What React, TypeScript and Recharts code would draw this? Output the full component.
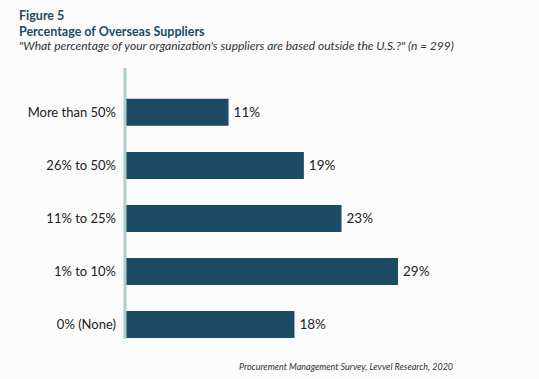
import { BarChart, Bar, XAxis, YAxis, LabelList } from "recharts";

const categories = ["More than 50%", "26% to 50%", "11% to 25%", "1% to 10%", "0% (None)"];
const shares = [11, 19, 23, 29, 18];

const data = categories.map((name, i) => ({ idx: i, name, value: shares[i] }));

const FONT = "Lato, 'Open Sans', sans-serif";
const AXIS_COLOR = "#a9d2c6";
const BAR_COLOR = "#1c4b63";

export default function App() {
    return (
        <div
            style={{
                position: "absolute",
                left: 0,
                top: 0,
                width: 539,
                height: 379,
                background: "#fbfbfb",
                fontFamily: FONT,
                overflow: "hidden",
            }}
        >
            <div style={{ position: "absolute", left: 19, top: 8, fontSize: 12.5, fontWeight: 700, color: "#1f4a62", lineHeight: "16px" }}>
                Figure 5
            </div>
            <div style={{ position: "absolute", left: 19, top: 24, fontSize: 12.5, fontWeight: 700, color: "#1f4a62", lineHeight: "16px" }}>
                Percentage of Overseas Suppliers
            </div>
            <div style={{ position: "absolute", left: 19, top: 38, fontSize: 12, fontStyle: "italic", color: "#333", lineHeight: "16px" }}>
                "What percentage of your organization's suppliers are based outside the U.S.?" (n = 299)
            </div>

            <BarChart
                style={{ position: "absolute", left: 0, top: 0 }}
                width={539}
                height={379}
                data={data}
                layout="vertical"
                margin={{ top: 68, right: 141, left: 0, bottom: 40 }}
            >
                <XAxis
                    type="number"
                    domain={[0, 29]}
                    height={0}
                    tick={false}
                    tickLine={false}
                    axisLine={{ stroke: AXIS_COLOR, strokeWidth: 3 }}
                />
                <YAxis
                    type="number"
                    dataKey="idx"
                    domain={[-0.836, 4.272]}
                    allowDataOverflow
                    ticks={[0, 1, 2, 3, 4]}
                    tickFormatter={(i: number) => categories[i]}
                    width={125}
                    tickLine={false}
                    tickSize={0}
                    tickMargin={9}
                    axisLine={{ stroke: AXIS_COLOR, strokeWidth: 3 }}
                    tick={{ fill: "#222", fontSize: 13, fontFamily: FONT }}
                />
                <Bar dataKey="value" fill={BAR_COLOR} barSize={27} isAnimationActive={false}>
                    <LabelList
                        dataKey="value"
                        position="right"
                        offset={5}
                        formatter={(v: number) => `${v}%`}
                        style={{ fill: "#222", fontSize: 13.5, fontFamily: FONT }}
                    />
                </Bar>
            </BarChart>

            <div
                style={{
                    position: "absolute",
                    left: 239,
                    top: 361,
                    fontSize: 9,
                    fontStyle: "italic",
                    color: "#333",
                    lineHeight: "12px",
                }}
            >
                Procurement Management Survey, Levvel Research, 2020
            </div>
        </div>
    );
}
